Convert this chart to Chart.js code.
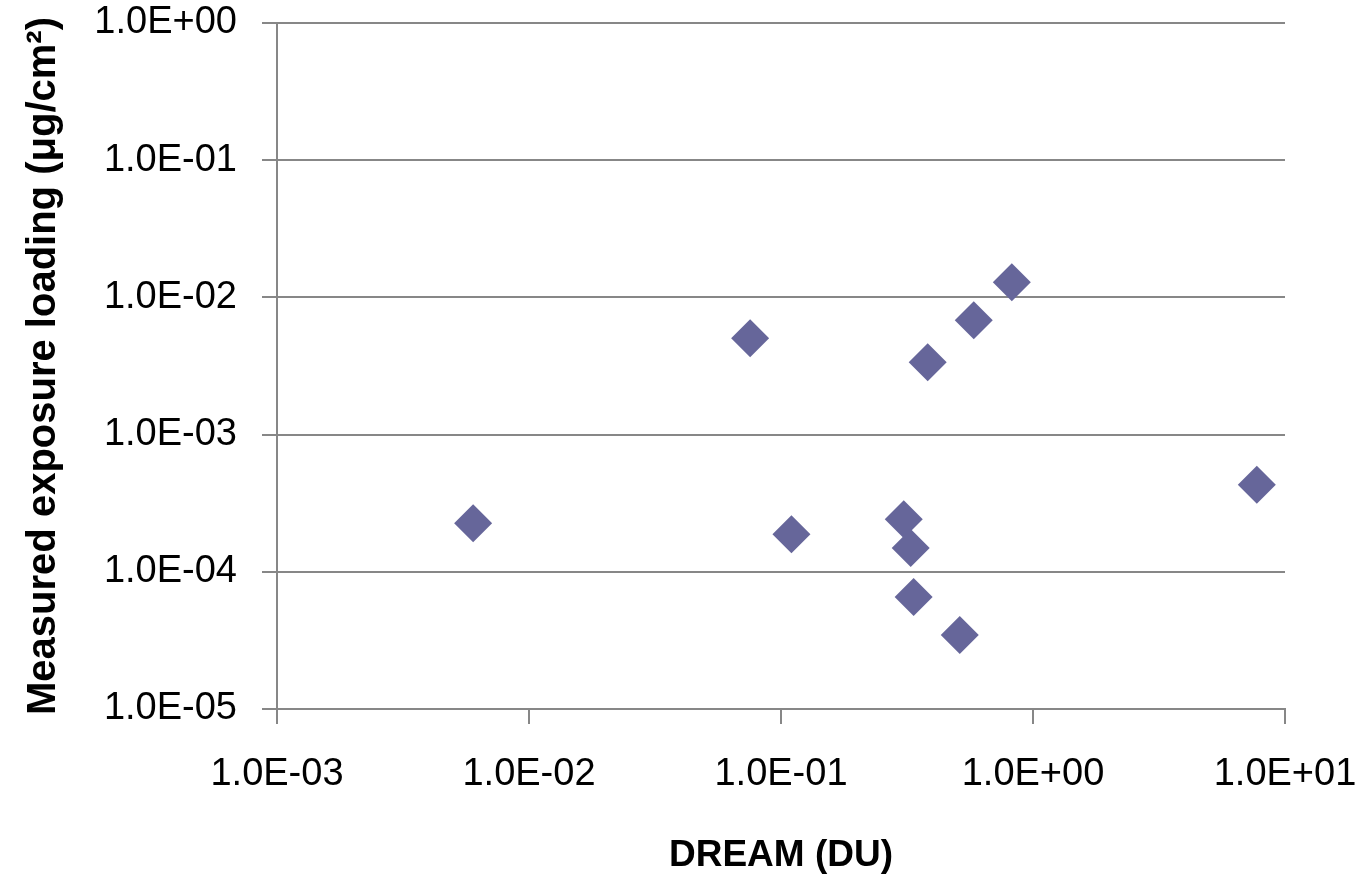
<!DOCTYPE html>
<html>
<head>
<meta charset="utf-8">
<script src="https://cdn.jsdelivr.net/npm/chart.js@4/dist/chart.umd.min.js"></script>
<style>
  html, body { margin: 0; padding: 0; background: #fff; }
  #wrap { width: 1364px; height: 882px; }
</style>
</head>
<body>
<div id="wrap"><canvas id="chart" width="1364" height="882"></canvas></div>
<script>
// valeurs
const dreamX = [0.0060, 0.0754, 0.110, 0.307, 0.327, 0.336, 0.382, 0.512, 0.582, 0.824, 7.73];
const measuredY = [2.26e-4, 5.04e-3, 1.88e-4, 2.42e-4, 1.49e-4, 6.55e-5, 3.37e-3, 3.46e-5, 6.82e-3, 1.29e-2, 4.31e-4];

const xTicks = [1e-3, 1e-2, 1e-1, 1e0, 1e1];
const yTicks = [1e-5, 1e-4, 1e-3, 1e-2, 1e-1, 1e0];

const gridGray = '#878787';
const markerColor = 'rgb(102,102,154)';

// format "1.0E-03"
function sci(v) {
    const exp = Math.round(Math.log10(v));
    const mant = (v / Math.pow(10, exp)).toFixed(1);
    const sign = exp < 0 ? '-' : '+';
    const e = String(Math.abs(exp)).padStart(2, '0');
    return mant + 'E' + sign + e;
}

const points = dreamX.map((x, i) => ({ x: x, y: measuredY[i] }));

const ctx = document.getElementById('chart').getContext('2d');
const chart = new Chart(ctx, {
    type: 'scatter',
    data: {
        datasets: [{
            data: points,
            pointStyle: 'rectRot',
            pointRadius: 19,
            pointHoverRadius: 19,
            backgroundColor: markerColor,
            borderColor: markerColor,
            borderWidth: 0
        }]
    },
    options: {
        responsive: false,
        animation: false,
        layout: { padding: { top: 23, right: 79, left: 0, bottom: 0 } },
        plugins: { legend: { display: false }, tooltip: { enabled: false } },
        scales: {
            x: {
                type: 'logarithmic',
                min: 1e-3,
                max: 1e1,
                afterBuildTicks: scale => { scale.ticks = xTicks.map(v => ({ value: v })); },
                afterFit: scale => {
                    scale.height = 173;
                    scale.paddingLeft = 0;
                    scale.paddingRight = 0;
                },
                ticks: {
                    autoSkip: false,
                    maxRotation: 0,
                    padding: 28,
                    color: '#000',
                    font: { family: 'Liberation Sans', size: 38 },
                    callback: v => sci(v)
                },
                grid: { drawOnChartArea: false, drawTicks: true, tickLength: 15, color: gridGray, lineWidth: 2 },
                border: { display: true, color: gridGray, width: 2 },
                title: {
                    display: true,
                    text: 'DREAM (DU)',
                    color: '#000',
                    font: { family: 'Liberation Sans', size: 37, weight: 'bold' },
                    padding: { top: 40 }
                }
            },
            y: {
                type: 'logarithmic',
                min: 1e-5,
                max: 1e0,
                afterBuildTicks: scale => { scale.ticks = yTicks.map(v => ({ value: v })); },
                afterFit: scale => {
                    scale.width = 277;
                    scale.paddingTop = 0;
                    scale.paddingBottom = 0;
                },
                ticks: {
                    autoSkip: false,
                    padding: 25,
                    color: '#000',
                    font: { family: 'Liberation Sans', size: 38 },
                    callback: v => sci(v)
                },
                grid: { drawTicks: true, tickLength: 15, color: gridGray, lineWidth: 2 },
                border: { display: true, color: gridGray, width: 2 },
                title: {
                    display: true,
                    text: 'Measured exposure loading (μg/cm²)',
                    color: '#000',
                    font: { family: 'Liberation Sans', size: 40, weight: 'bold' },
                    padding: { top: 20, bottom: 10 }
                }
            }
        }
    }
});
</script>
</body>
</html>
